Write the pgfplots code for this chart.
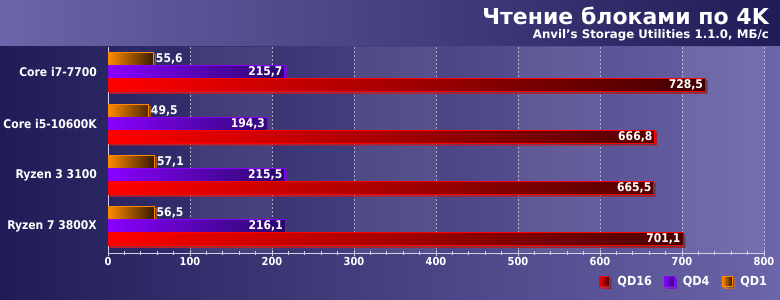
\documentclass[border=0pt]{standalone}
\usepackage{fontspec}
\setmainfont{DejaVu Sans}
\newfontfamily\cond{DejaVu Sans Condensed}
\usepackage{pgfplots}
\pgfplotsset{compat=1.18}
\usetikzlibrary{shadows}
\definecolor{bgA}{HTML}{6B65A9}
\definecolor{bgB}{HTML}{201C57}
\definecolor{oneA}{HTML}{FF8A00}
\definecolor{oneB}{HTML}{341800}
\definecolor{fourA}{HTML}{8A00FF}
\definecolor{fourB}{HTML}{26086A}
\definecolor{sixA}{HTML}{FF0000}
\definecolor{sixB}{HTML}{420000}
\definecolor{axcol}{HTML}{D0D0E8}
\begin{document}
\begin{tikzpicture}
\shade[left color=bgA, right color=bgB] (0bp,253bp) rectangle (780bp,300bp);
\shade[left color=bgB, right color=bgA] (0bp,0bp) rectangle (780bp,253bp);
\foreach \a/\b in {190/272,354/436,518/600,682/764}{
  \fill[white, opacity=0.07] (\a bp,47bp) rectangle (\b bp,253bp);
}
\node[anchor=base east, text=white, font=\fontsize{22bp}{26bp}\bfseries, inner sep=0pt] at (769bp,275bp) {Чтение блоками по 4K};
\node[anchor=base east, text=white, font=\fontsize{11.8bp}{13bp}\bfseries, inner sep=0pt] at (769bp,261.5bp) {Anvil's Storage Utilities 1.1.0, МБ/с};
\begin{axis}[
  at={(108bp,47bp)}, anchor=south west,
  scale only axis, width=656bp, height=206bp,
  xmin=0, xmax=800, ymin=-0.52, ymax=3.49,
  axis x line*=bottom, axis y line*=left,
  axis line style={draw=axcol, line width=0.8bp, -},
  xtick={0,100,...,800}, minor x tick num=4,
  tick align=center, major tick length=6bp, minor tick length=4bp,
  x tick style={draw=axcol, line width=0.8bp},
  ytick={0,1,2,3},
  yticklabels={Ryzen 7 3800X, Ryzen 3 3100, Core i5-10600K, Core i7-7700},
  y tick style={draw=none},
  xmajorgrids,
  grid style={draw=white, opacity=0.55, dash pattern=on 2bp off 2bp, line width=0.6bp},
  /pgf/number format/assume math mode=true,
  ticklabel style={text=white},
  xticklabel style={font=\fontsize{11bp}{13bp}\cond\bfseries, inner sep=1bp},
  yticklabel style={font=\fontsize{12bp}{14bp}\cond\bfseries, inner sep=0pt, xshift=-5bp},
  xbar, bar width=13bp,
  nodes near coords={\pgfmathprintnumber[fixed,fixed zerofill,precision=1,use comma,assume math mode=true]{\pgfplotspointmeta}},
  every node near coord/.append style={font=\fontsize{12bp}{14bp}\cond\bfseries, text=white, inner sep=2bp},
  reverse legend,
  legend columns=-1,
  legend style={at={(axis description cs:1.0125,-0.137)}, anchor=east, draw=none, fill=none,
    text=white, font=\fontsize{12.5bp}{14bp}\cond\bfseries,
    /tikz/every odd column/.append style={column sep=6bp},
    /tikz/every even column/.append style={column sep=10bp}},
]
\addplot[bar shift=13bp, left color=oneA, right color=oneB, draw=oneA, line width=0.8bp,
  drop shadow={shadow xshift=2bp, shadow yshift=-2bp, opacity=0.45},
  every node near coord/.append style={anchor=west},
  legend image code/.code={\shade[left color=oneA, right color=oneB, draw=oneA] (0bp,-5bp) rectangle (10bp,5bp);}]
  coordinates {(56.5,0) (57.1,1) (49.5,2) (55.6,3)};
\addlegendentry{QD1}
\addplot[bar shift=0bp, left color=fourA, right color=fourB, draw=fourA, line width=0.8bp,
  drop shadow={shadow xshift=2bp, shadow yshift=-2bp, opacity=0.45},
  every node near coord/.append style={anchor=east},
  legend image code/.code={\shade[left color=fourA, right color=fourB, draw=fourA] (0bp,-5bp) rectangle (10bp,5bp);}]
  coordinates {(216.1,0) (215.5,1) (194.3,2) (215.7,3)};
\addlegendentry{QD4}
\addplot[bar shift=-13bp, left color=sixA, right color=sixB, draw=sixA, line width=0.8bp,
  drop shadow={shadow xshift=2bp, shadow yshift=-2bp, opacity=0.45},
  every node near coord/.append style={anchor=east},
  legend image code/.code={\shade[left color=sixA, right color=sixB, draw=sixA] (0bp,-5bp) rectangle (10bp,5bp);}]
  coordinates {(701.1,0) (665.5,1) (666.8,2) (728.5,3)};
\addlegendentry{QD16}
\end{axis}
\pgfresetboundingbox
\path (0bp,0bp) rectangle (780bp,300bp);
\end{tikzpicture}
\end{document}
